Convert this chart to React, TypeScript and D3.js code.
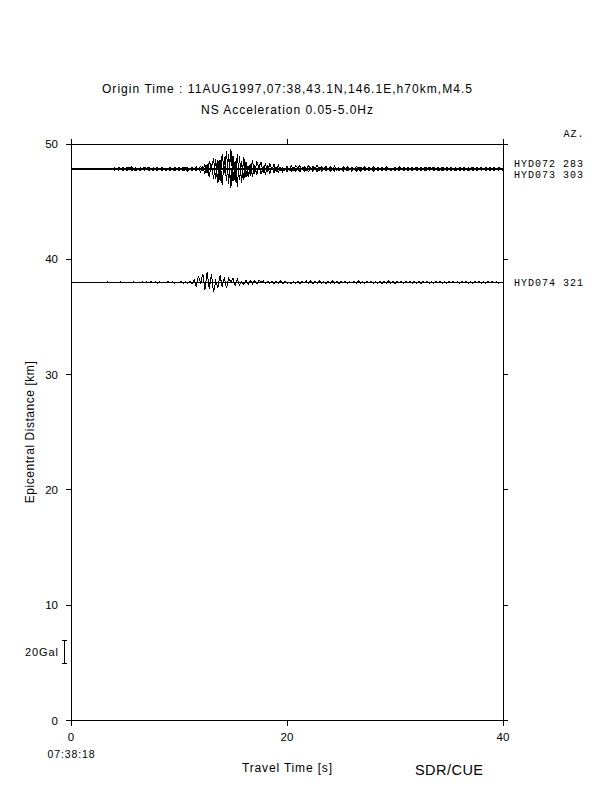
import React from "react";
import * as d3 from "d3";

// ---- data ----
const titleLines = [
  "Origin Time : 11AUG1997,07:38,43.1N,146.1E,h70km,M4.5",
  "NS Acceleration 0.05-5.0Hz",
];
const xTicks = [0, 20, 40];
const yTicks = [0, 10, 20, 30, 40, 50];
const startClock = "07:38:18";
const stationNames = ["HYD072", "HYD073", "HYD074"];
const azimuths = [283, 303, 321];
const distances = [47.9, 47.75, 38.0];
const startTimes = [4.0, 4.0, 3.0];
const sampleInterval = 0.2;
const scaleBarGal = 20;

// acceleration samples (Gal), every 0.2 s from the start time
const hyd072 = [
  0.3, -0.5, 0.6, -0.4, 0.8, -1.2, 0.9, 0.2, 1.1, -0.7,
  0.5, -0.9, 0.4, -0.3, 0.7, 0.1, 0.6, -0.8, 0.3, -0.4,
  0.6, -0.7, 0.9, -0.5, -0.2, -0.6, 0.8, -0.9, 0.5, -0.3,
  0.7, -0.6, 1.0, 0.2, 0.6, -1.1, 0.9, -0.7, 1.2, -1.0,
  1.5, -2.2, 3.1, -4.5, 5.8, 1.2, 8.4, -9.6, 7.2, -10.8,
  12.6, -3.9, 14.8, -13.5, 16.9, -11.2, 6.3, -16.1, 10.4, -12.7,
  9.8, -7.6, 2.2, -6.4, 7.1, -5.3, 6.2, 0.8, 5.5, -3.9,
  4.6, -3.5, 3.8, -0.9, 3.2, -2.6, 2.8, -2.1, 0.5, -1.9,
  2.2, -1.7, 1.9, -1.5, 1.8, 0.4, 2.3, -1.6, 1.5, -1.2,
  2.4, -1.3, 1.7, -0.2, 2.6, -1.5, 1.4, -1.0, 1.9, -1.3,
  1.6, -1.2, 2.1, -1.4, 0.3, -0.9, 1.5, -1.1, 1.2, -0.8,
  1.1, -0.9, 1.4, 0.2, 0.9, -0.7, 1.2, -0.8, 1.0, -0.9,
  1.3, -1.1, 0.8, -0.6, 1.1, -0.9, 1.4, -1.2, -0.1, -0.7,
  1.0, -0.8, 1.2, -0.9, 0.7, -0.6, 1.1, -1.0, 0.8, -0.5,
  0.9, -0.7, 1.0, -0.8, 0.6, 0.1, 0.8, -0.6, 1.1, -0.7,
  0.7, -0.5, 0.9, -0.8, 0.6, -0.4, 0.8, -0.7, 0.5, -0.6,
  0.8, -0.6, 0.7, -0.9, 0.5, -0.4, 0.9, -0.6, 0.7, -0.5,
  0.6, -0.7, 0.5, -0.4, 0.8, -0.5, 0.6, -0.3, 0.5, -0.4,
  0.2,
];
const hyd073 = [
  -0.4, 0.6, -0.3, 0.5, -0.7, 0.4, -0.6, 0.8, -0.5, 0.3,
  -0.6, 0.4, -0.8, 0.7, -0.3, 0.5, -0.4, 0.6, -0.7, 0.5,
  -0.5, 0.8, -0.6, 0.4, -0.7, 0.9, -0.5, 0.6, -0.8, 0.4,
  -0.6, 0.9, -0.7, 0.5, -1.0, 0.8, -0.6, 1.1, -0.9, 1.3,
  -1.8, 2.6, -3.4, 4.9, -6.2, 5.1, -7.8, 9.3, -11.4, 8.6,
  -13.2, 10.9, -9.7, 14.1, -15.8, 12.3, -10.6, 13.7, -9.1, 7.4,
  -8.3, 6.8, -6.1, 5.4, -5.9, 4.6, -4.2, 3.9, -3.6, 3.1,
  -3.3, 2.7, -2.9, 2.4, -2.2, 2.0, -1.9, 1.8, -1.6, 1.5,
  -1.7, 1.4, -1.3, 1.6, -1.2, 1.1, -1.5, 1.9, -1.1, 1.0,
  -1.4, 2.0, -1.2, 0.9, -1.6, 1.8, -1.0, 1.2, -0.9, 1.5,
  -1.3, 1.1, -0.8, 1.4, -1.0, 0.9, -1.2, 1.0, -0.7, 0.9,
  -1.0, 0.8, -1.1, 0.7, -0.9, 1.2, -0.6, 0.8, -1.0, 0.7,
  -0.9, 1.1, -0.7, 0.6, -1.0, 0.9, -0.8, 1.2, -0.6, 0.7,
  -0.8, 0.6, -0.9, 1.0, -0.5, 0.7, -0.8, 0.6, -0.7, 0.9,
  -0.6, 0.8, -0.7, 0.5, -0.9, 0.6, -0.5, 0.7, -0.8, 0.6,
  -0.7, 0.5, -0.6, 0.8, -0.4, 0.6, -0.7, 0.5, -0.6, 0.4,
  -0.5, 0.7, -0.6, 0.4, -0.8, 0.5, -0.4, 0.6, -0.5, 0.7,
  -0.4, 0.6, -0.5, 0.3, -0.6, 0.5, -0.4, 0.5, -0.3, 0.4,
  -0.2,
];
const hyd074 = [
  0.3, -0.2, 0.4, -0.3, 0.2, -0.4, 0.3, -0.2, 0.5, -0.3,
  0.4, -0.5, 0.3, -0.2, 0.6, -0.4, 0.3, -0.5, 0.4, -0.3,
  0.5, -0.4, 0.6, -0.3, 0.4, -0.6, 0.5, -0.4, 0.3, -0.5,
  0.6, -0.4, 0.5, -0.7, 0.4, -0.5, 0.7, -0.6, 0.5, -0.8,
  0.9, -1.2, 2.4, -3.6, 5.8, -0.9, 7.6, -6.3, 8.7, -5.4,
  6.9, -8.4, 1.2, -4.6, 6.1, -3.8, 4.4, -5.1, 3.6, 0.3,
  3.4, -2.6, 2.9, -2.2, 0.5, -1.9, 2.1, -1.7, 1.8, -1.4,
  1.6, -1.3, 1.9, 0.2, 1.4, -1.2, 1.0, -0.9, 1.3, -1.0,
  1.1, -0.8, 1.4, -1.2, 0.9, -0.7, -0.1, -1.0, 0.8, -0.9,
  1.0, -1.3, 0.8, -0.6, 1.1, -0.9, 1.5, -1.1, 0.7, -0.8,
  1.2, -0.9, 0.6, -1.0, 0.9, -0.7, 1.3, -0.8, 1.0, -1.2,
  0.8, -0.6, 1.1, -0.9, 0.7, -0.5, 1.0, -0.8, 1.4, -0.9,
  0.7, -1.0, 0.9, -0.6, 1.2, -0.8, 0.6, -0.7, 1.0, -0.9,
  0.8, -0.6, 1.1, -0.7, 0.9, -1.1, 0.7, -0.5, 0.8, -0.9,
  1.0, -0.7, 0.6, -0.8, 0.9, -0.6, 1.1, -0.9, 0.7, -0.5,
  0.8, -0.7, 0.6, -0.9, 0.7, -0.5, 0.9, -0.6, 0.5, -0.8,
  0.7, -0.6, 0.9, -0.5, 0.6, -0.8, 0.7, -0.4, 0.8, -0.6,
  0.5, -0.7, 0.6, -0.4, 0.8, -0.6, 0.5, -0.7, 0.6, -0.5,
  0.7, -0.4, 0.5, -0.6, 0.4, -0.5,
];
const traces = [hyd072, hyd073, hyd074];

// ---- layout ----
const W = 612;
const H = 792;
const SANS = "'Liberation Sans', Arial, Helvetica, sans-serif";
const MONO = "'Liberation Mono', 'DejaVu Sans Mono', monospace";

export default function App() {
  const x = d3.scaleLinear().domain([0, 40]).range([71, 503]);
  const y = d3.scaleLinear().domain([0, 50]).range([720.5, 144]);
  const amp = d3.scaleLinear().domain([0, 20]).range([0, 23]);
  const tick = 5;
  const x0 = x(0), x1 = x(40), yTop = y(50), yBot = y(0);
  const xc = (x0 + x1) / 2;

  const paths = traces.map((vals, i) => {
    const base = y(distances[i]);
    const line = d3
      .line<number>()
      .x((_, j) => x(startTimes[i] + j * sampleInterval))
      .y((v) => base - amp(v));
    return line(vals) || "";
  });

  // label placement: keep labels at least 11px apart
  const gap = 11;
  const order = distances.map((d, i) => ({ i, yy: y(d) })).sort((a, b) => a.yy - b.yy);
  const labelY: number[] = new Array(distances.length);
  const groups: { items: { i: number; yy: number }[] }[] = [];
  order.forEach((o) => {
    const g = groups[groups.length - 1];
    if (g && o.yy - g.items[g.items.length - 1].yy < gap) g.items.push(o);
    else groups.push({ items: [o] });
  });
  groups.forEach((g) => {
    const mean = d3.mean(g.items, (d) => d.yy) as number;
    const n = g.items.length;
    g.items.forEach((o, k) => {
      labelY[o.i] = mean + (k - (n - 1) / 2) * gap;
    });
  });

  const barX = 64;
  const barC = 651.5;
  const barHalf = amp(scaleBarGal) / 2;

  return (
    <svg
      width={W}
      height={H}
      style={{ position: "absolute", left: 0, top: 0, background: "#fff" }}
      xmlns="http://www.w3.org/2000/svg"
    >
      <rect x={0} y={0} width={W} height={H} fill="#fff" />
      {/* titles */}
      <text x={xc} y={92.5} textAnchor="middle" fontFamily={SANS} fontSize={12} textLength={370} lengthAdjust="spacing">
        {titleLines[0]}
      </text>
      <text x={xc} y={113.5} textAnchor="middle" fontFamily={SANS} fontSize={12} textLength={172} lengthAdjust="spacing">
        {titleLines[1]}
      </text>

      <g shapeRendering="crispEdges" stroke="#000" strokeWidth={1} fill="none">
        {/* frame */}
        <line x1={x0} x2={x1} y1={yTop} y2={yTop} />
        <line x1={x0} x2={x1} y1={yBot} y2={yBot} />
        <line x1={x0} x2={x0} y1={yTop} y2={yBot} />
        <line x1={x1} x2={x1} y1={yTop} y2={yBot} />
        {/* ticks */}
        {xTicks.map((t) => (
          <g key={"xt" + t}>
            <line x1={x(t)} x2={x(t)} y1={yBot} y2={yBot + tick} />
            <line x1={x(t)} x2={x(t)} y1={yTop} y2={yTop - tick} />
          </g>
        ))}
        {yTicks.map((t) => (
          <g key={"yt" + t}>
            <line x1={x0 - tick} x2={x0} y1={y(t)} y2={y(t)} />
            <line x1={x1} x2={x1 + tick} y1={y(t)} y2={y(t)} />
          </g>
        ))}
        {/* baselines */}
        {distances.map((d, i) => (
          <line key={"b" + i} x1={x0} x2={x1} y1={y(d)} y2={y(d)} />
        ))}
        {/* scale bar */}
        <line x1={barX} x2={barX} y1={barC - barHalf} y2={barC + barHalf} />
        <line x1={barX - 2} x2={barX + 3} y1={barC - barHalf} y2={barC - barHalf} />
        <line x1={barX - 2} x2={barX + 3} y1={barC + barHalf} y2={barC + barHalf} />
      </g>

      {/* traces */}
      <g stroke="#000" strokeWidth={1} fill="none" shapeRendering="crispEdges">
        {paths.map((p, i) => (
          <path key={"p" + i} d={p} />
        ))}
      </g>

      {/* y tick labels */}
      {yTicks.map((t) => (
        <text key={"yl" + t} x={x0 - 13} y={y(t) + 4} textAnchor="end" fontFamily={SANS} fontSize={11.5}>
          {t}
        </text>
      ))}
      {/* x tick labels */}
      {xTicks.map((t) => (
        <text key={"xl" + t} x={x(t)} y={740.5} textAnchor="middle" fontFamily={SANS} fontSize={11.5}>
          {t}
        </text>
      ))}
      <text x={x0} y={757.5} textAnchor="middle" fontFamily={SANS} fontSize={10.5} textLength={47} lengthAdjust="spacing">
        {startClock}
      </text>
      <text x={xc} y={771.5} textAnchor="middle" fontFamily={SANS} fontSize={12} textLength={90} lengthAdjust="spacing">
        Travel Time [s]
      </text>
      <text x={449} y={775} textAnchor="middle" fontFamily={SANS} fontSize={14.5} textLength={68} lengthAdjust="spacing">
        SDR/CUE
      </text>
      <text
        transform={`translate(33.5, ${(yTop + yBot) / 2}) rotate(-90)`}
        textAnchor="middle"
        fontFamily={SANS}
        fontSize={12}
        textLength={142}
        lengthAdjust="spacing"
      >
        Epicentral Distance [km]
      </text>
      <text x={58} y={barC + 4} textAnchor="end" fontFamily={SANS} fontSize={11} textLength={33} lengthAdjust="spacing">
        {scaleBarGal}Gal
      </text>

      {/* station labels */}
      <text x={583.5} y={136.5} textAnchor="end" fontFamily={MONO} fontSize={10} textLength={20} lengthAdjust="spacing">
        AZ.
      </text>
      {stationNames.map((n, i) => (
        <text
          key={"s" + i}
          x={514}
          y={labelY[i] + 3.5}
          fontFamily={MONO}
          fontSize={10}
          textLength={69}
          lengthAdjust="spacing"
        >
          {`${n} ${azimuths[i]}`}
        </text>
      ))}
    </svg>
  );
}
